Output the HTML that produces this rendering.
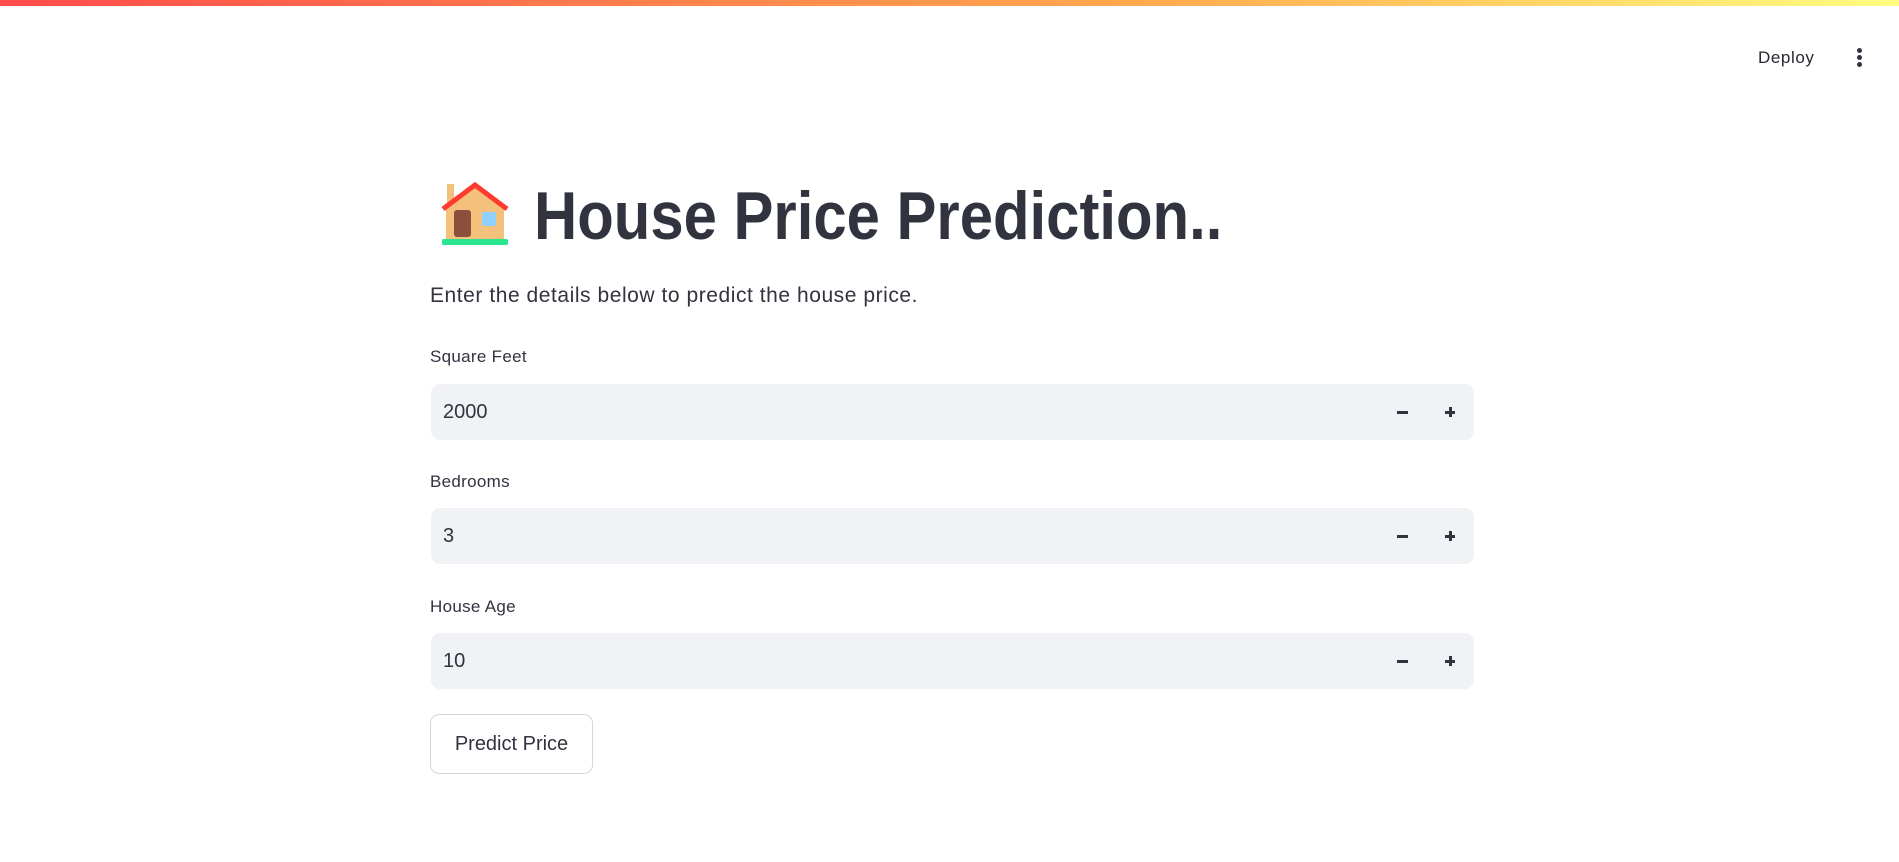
<!DOCTYPE html>
<html><head><meta charset="utf-8">
<style>
html,body{margin:0;padding:0;width:1899px;height:862px;background:#fff;overflow:hidden;font-family:"Liberation Sans",sans-serif;color:#31333f;position:relative}
.abs{position:absolute}
.topbar{left:0;top:0;width:1899px;height:6px;background:linear-gradient(90deg,#ff4b4b,#ffa94d 60%,#fffd80)}
.label{font-size:17px;left:430px;letter-spacing:0.3px}
.inp{left:431px;width:1043px;height:56px;background:#f0f2f6;border-radius:9px}
.inp .val{position:absolute;left:12px;top:0;line-height:56px;font-size:20px}
.inp .minus{position:absolute;left:966px;top:27px;width:11px;height:3px;background:#31333f}
.inp .plus{position:absolute;left:1014px;top:23px;width:10px;height:10px}
.inp .plus:before{content:"";position:absolute;left:0;top:4px;width:10px;height:2.5px;background:#31333f}
.inp .plus:after{content:"";position:absolute;left:4px;top:0;width:2.5px;height:10px;background:#31333f}
</style></head><body>
<div class="abs topbar"></div>
<div class="abs" style="left:1758px;top:48px;font-size:17px;letter-spacing:0.6px;color:#262730">Deploy</div>
<div class="abs" style="left:1857px;top:48px;width:6px;height:20px">
 <div style="position:absolute;left:0;top:0;width:5px;height:5px;border-radius:50%;background:#31333f"></div>
 <div style="position:absolute;left:0;top:7px;width:5px;height:5px;border-radius:50%;background:#31333f"></div>
 <div style="position:absolute;left:0;top:14px;width:5px;height:5px;border-radius:50%;background:#31333f"></div>
</div>
<svg class="abs" style="left:440px;top:182px" width="70" height="64" viewBox="0 0 70 64">
 <rect x="7" y="2" width="7" height="20" fill="#f4c17c"/>
 <polygon points="6,24 35,3 64,24 64,58 6,58" fill="#f4c17c"/>
 <polyline points="3,27 35,3 67,27" fill="none" stroke="#ff3b30" stroke-width="5"/>
 <rect x="14" y="28" width="17" height="27" rx="3" fill="#8b4f3c"/>
 <rect x="42" y="30" width="14" height="14" rx="2" fill="#8fd0ff"/>
 <rect x="2" y="57" width="66" height="6" rx="2" fill="#27e68f"/>
</svg>
<div class="abs" style="left:534px;top:172px;font-size:68px;font-weight:bold;white-space:nowrap;transform:scaleX(0.88);transform-origin:0 0;line-height:88px">House Price Prediction..</div>
<div class="abs" style="left:430px;top:284px;font-size:21px;letter-spacing:0.55px;white-space:nowrap">Enter the details below to predict the house price.</div>

<div class="abs label" style="top:347px">Square Feet</div>
<div class="abs inp" style="top:384px"><span class="val">2000</span><div class="minus"></div><div class="plus"></div></div>

<div class="abs label" style="top:472px">Bedrooms</div>
<div class="abs inp" style="top:508px"><span class="val">3</span><div class="minus"></div><div class="plus"></div></div>

<div class="abs label" style="top:597px">House Age</div>
<div class="abs inp" style="top:633px"><span class="val">10</span><div class="minus"></div><div class="plus"></div></div>

<div class="abs" style="left:430px;top:714px;width:163px;height:60px;border:1px solid #d5d6da;border-radius:9px;box-sizing:border-box;font-size:20px;line-height:58px;text-align:center">Predict Price</div>
</body></html>
